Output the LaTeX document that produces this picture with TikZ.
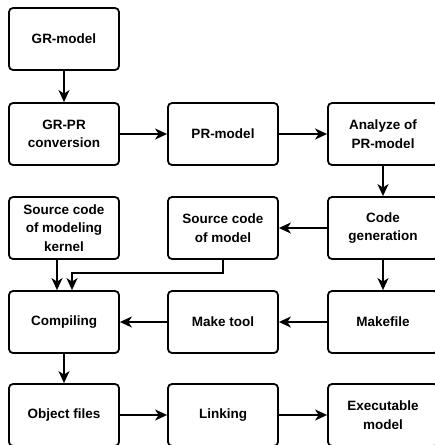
\documentclass[tikz,border=0pt]{standalone}
\usepackage{fontspec}
\setmainfont{Liberation Sans}
\usetikzlibrary{arrows.meta}
\begin{document}
\begin{tikzpicture}[x=1pt,y=-1pt,
  box/.style={draw,line width=1.8pt,rounded corners=4pt,minimum width=110pt,minimum height=62pt,
    align=center,font=\fontsize{13.5}{18.5}\selectfont\bfseries,inner sep=0pt},
  arr/.style={line width=1.8pt,-{Stealth[length=12pt,width=11pt,inset=3.5pt]}}]
\useasboundingbox (0,0) rectangle (435,445);
\node[box] (gr) at (64,39) {GR-model};
\node[box] (conv) at (64,134) {GR-PR\\conversion};
\node[box] (pr) at (223,134) {PR-model};
\node[box] (an) at (383,134) {Analyze of\\PR-model};
\node[box] (kern) at (64,228) {Source code\\of modeling\\kernel};
\node[box] (srcm) at (223,228) {Source code\\of model};
\node[box] (cg) at (383,228) {Code\\generation};
\node[box] (comp) at (64,322) {Compiling};
\node[box] (mt) at (223,322) {Make tool};
\node[box] (mf) at (383,322) {Makefile};
\node[box] (obj) at (64,415) {Object files};
\node[box] (link) at (223,415) {Linking};
\node[box] (exe) at (383,415) {Executable\\model};
\draw[arr] (gr) -- (conv);
\draw[arr] (conv) -- (pr);
\draw[arr] (pr) -- (an);
\draw[arr] (an) -- (cg);
\draw[arr] (cg) -- (srcm);
\draw[arr] (cg) -- (mf);
\draw[arr] (mf) -- (mt);
\draw[arr] (mt) -- (comp);
\draw[arr] ([xshift=-7pt]kern.south) -- ([xshift=-7pt]comp.north);
\draw[arr] (srcm.south) -- ++(0,13) -| ([xshift=8pt]comp.north);
\draw[arr] (comp) -- (obj);
\draw[arr] (obj) -- (link);
\draw[arr] (link) -- (exe);
\end{tikzpicture}
\end{document}
